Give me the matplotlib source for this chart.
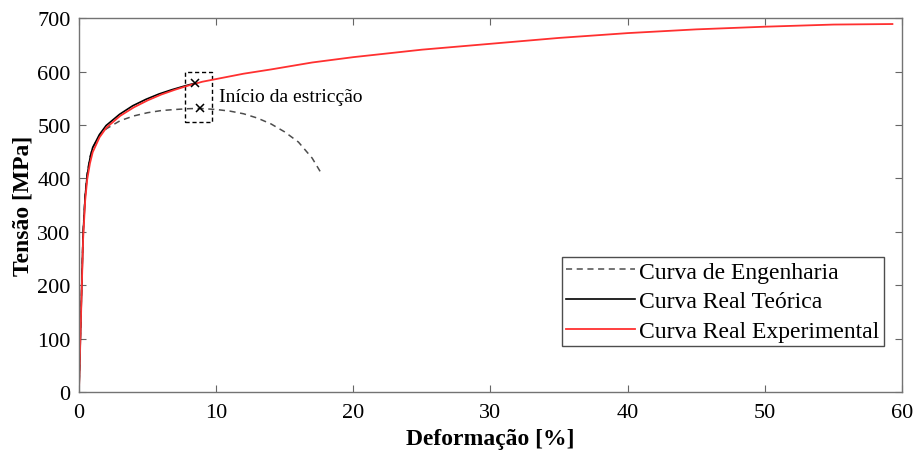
import matplotlib
matplotlib.use('Agg')
import matplotlib.pyplot as plt
from matplotlib.patches import Rectangle

plt.rcParams['font.family'] = ['Liberation Serif', 'DejaVu Serif']

# Engineering curve (strain %, stress MPa)
eng_strain = [0, 0.1, 0.2, 0.3, 0.45, 0.6, 0.8, 1.0, 1.5, 2.0, 3.0, 4.0, 5.0, 6.0,
              7.0, 8.0, 8.8, 10.0, 11.0, 12.0, 13.0, 14.0, 15.0, 16.0, 17.0, 17.7]
eng_stress = [0, 100, 200, 300, 370, 410, 440, 458, 480, 493, 508, 517, 523, 527,
              529, 530.5, 531, 529, 526, 521, 513, 502, 487, 468, 438, 408]

# Theoretical true curve (up to necking)
teo_strain = [0, 0.1, 0.2, 0.3, 0.45, 0.6, 0.8, 0.99, 1.49, 1.98, 2.96, 3.92,
              4.88, 5.83, 6.77, 7.70, 8.43]
teo_stress = [0, 98, 196, 294, 366, 406, 437, 457, 482, 499, 520, 536,
              548, 558, 566, 573, 578]

# Experimental true curve
exp_strain = [0, 0.1, 0.2, 0.3, 0.45, 0.6, 0.8, 1.0, 1.5, 2.0, 3.0, 4.0, 5.0, 6.0,
              7.0, 8.0, 9.0, 10.0, 12.0, 14.0, 17.0, 20.0, 25.0, 30.0, 35.0, 40.0,
              45.0, 50.0, 55.0, 59.3]
exp_stress = [0, 95, 190, 285, 358, 398, 428, 449, 477, 495, 517, 533, 546, 557,
              566, 574, 581, 586, 596, 604, 617, 627, 641, 652, 663, 672,
              679, 684, 688, 689]

# Necking points
neck_strain = [8.43, 8.8]
neck_stress = [578, 531]

fig = plt.figure(figsize=(9.15, 4.56), dpi=100)
ax = fig.add_axes([0.0863, 0.138, 0.8995, 0.820])

ax.plot(eng_strain, eng_stress, color='0.3', linestyle=(0, (4, 3)), lw=1.1,
        label='Curva de Engenharia')
ax.plot(teo_strain, teo_stress, color='black', lw=1.2, label='Curva Real Teórica')
ax.plot(exp_strain, exp_stress, color='#ff3030', lw=1.3, label='Curva Real Experimental')
ax.plot(neck_strain, neck_stress, 'x', color='black', ms=6, mew=1.1)

ax.add_patch(Rectangle((7.7, 505), 2.0, 95, fill=False, edgecolor='black',
                       linestyle=(0, (3, 2)), lw=1.0))
ax.text(10.2, 554, 'Início da estricção', fontsize=14, va='center', ha='left')

ax.set_xlim(0, 60)
ax.set_ylim(0, 700)
ax.set_xticks(range(0, 61, 10))
ax.set_yticks(range(0, 701, 100))
ax.tick_params(direction='in', top=True, right=True, length=5, labelsize=16,
               color='0.4')
ax.tick_params(axis='x', pad=8)
ax.tick_params(axis='y', pad=6)
for s in ax.spines.values():
    s.set_color('0.45')
    s.set_linewidth(1.0)

ax.set_xlabel('Deformação [%]', fontsize=17, fontweight='bold', labelpad=4)
ax.set_ylabel('Tensão [MPa]', fontsize=17, fontweight='bold', labelpad=3)

leg = ax.legend(loc='lower right', bbox_to_anchor=(0.978, 0.123), fontsize=17,
                handlelength=2.9, handletextpad=0.2, borderpad=0.18,
                labelspacing=0.34, borderaxespad=0, fancybox=False, framealpha=1)
leg.get_frame().set_edgecolor('0.3')
leg.get_frame().set_linewidth(1.0)

fig.savefig('out.png', dpi=100)
